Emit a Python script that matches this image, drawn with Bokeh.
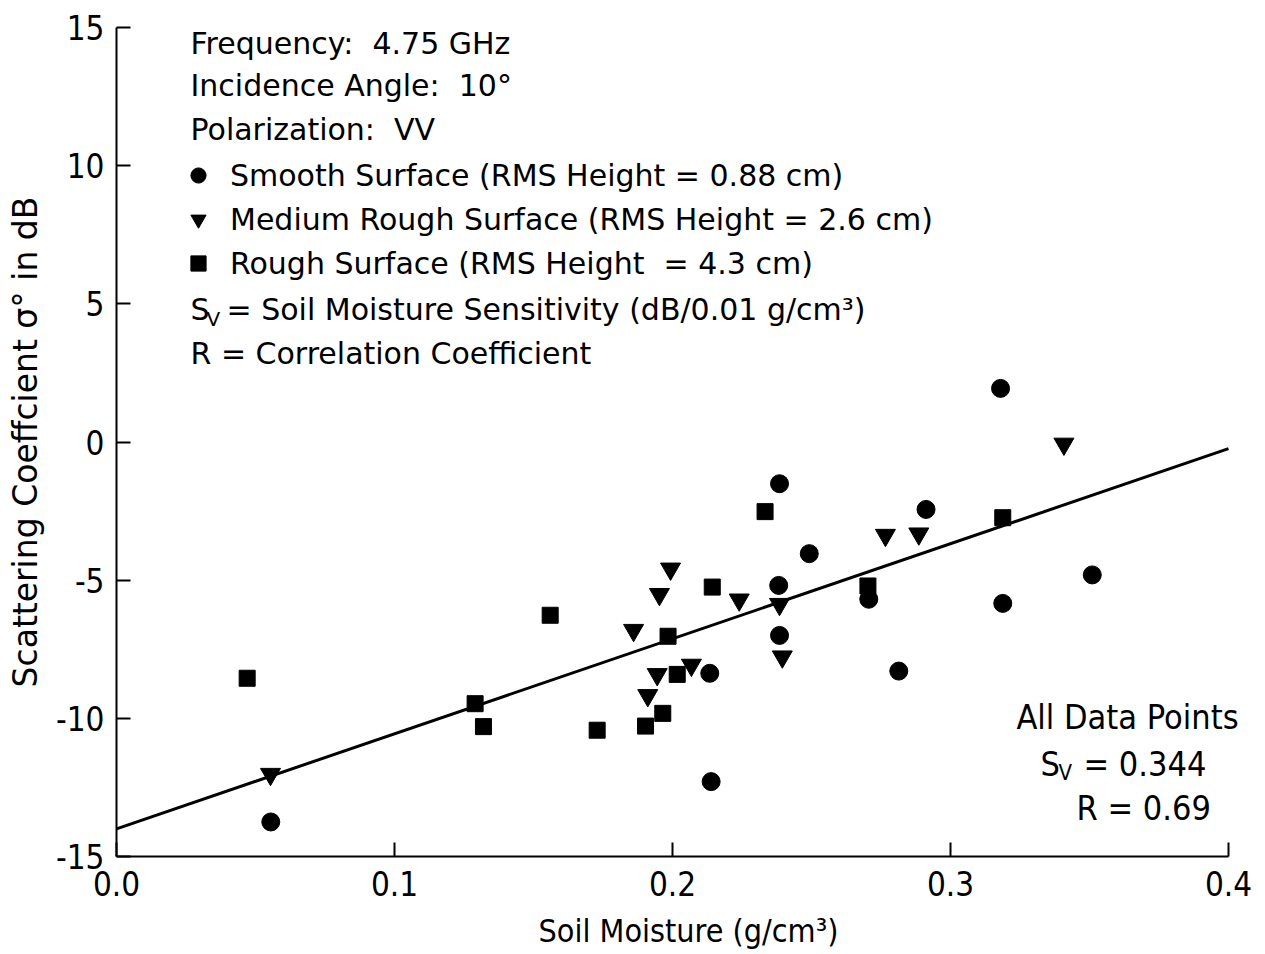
import numpy as np
from bokeh.plotting import figure
from bokeh.models import Label, Legend, LegendItem, FixedTicker
from bokeh.embed import file_html
from bokeh.resources import INLINE

# ---- data ----
smooth_x = [0.0555, 0.2134, 0.2139, 0.2385, 0.2382, 0.2385, 0.2492, 0.2706, 0.2814, 0.2912, 0.3180, 0.3188, 0.3510]
smooth_y = [-13.75, -8.37, -12.29, -1.51, -5.19, -7.00, -4.04, -5.69, -8.29, -2.44, 1.94, -5.84, -4.81]

medium_x = [0.0554, 0.1860, 0.1911, 0.1945, 0.1953, 0.1993, 0.2068, 0.2240, 0.2385, 0.2395, 0.2766, 0.2886, 0.3408]
medium_y = [-12.02, -6.81, -9.17, -8.41, -5.51, -4.59, -8.07, -5.71, -5.87, -7.77, -3.37, -3.32, -0.07]

rough_x = [0.0470, 0.1290, 0.1320, 0.1560, 0.1729, 0.1903, 0.1965, 0.1984, 0.2017, 0.2143, 0.2333, 0.2703, 0.3188]
rough_y = [-8.55, -9.47, -10.30, -6.27, -10.43, -10.28, -9.82, -7.03, -8.41, -5.25, -2.52, -5.21, -2.74]

fit_intercept = -14.0       # dB
fit_sv = 0.344              # dB per 0.01 g/cm3
fit_r = 0.69
fit_x = [0.0, 0.4]

x_ticks = [0.0, 0.1, 0.2, 0.3, 0.4]
x_tick_labels = ["0.0", "0.1", "0.2", "0.3", "0.4"]
y_ticks = [-15, -10, -5, 0, 5, 10, 15]
y_tick_labels = ["-15", "-10", "-5", "0", "5", "10", "15"]

NB = "\u00a0"
header_lines = ["Frequency:" + NB * 2 + "4.75 GHz",
                "Incidence Angle:" + NB * 2 + "10°",
                "Polarization:" + NB * 2 + "VV"]
legend_labels = ["Smooth Surface (RMS Height = 0.88 cm)",
                 "Medium Rough Surface (RMS Height = 2.6 cm)",
                 "Rough Surface (RMS Height" + NB + " = 4.3 cm)"]

TXT = "DejaVu Sans"
NAR = "'DejaVu Sans Condensed', Lato, sans-serif"

# layout: frame spans page x 116..1260 (x = 0.4 falls at 1228), y 27..856
X_END = 0.4 * (1260 - 116) / (1228 - 116)

p = figure(width=1265, height=952, output_backend="svg", toolbar_location=None,
           x_range=(0.0, X_END), y_range=(-15, 15),
           min_border_left=116, min_border_right=5, min_border_top=27, min_border_bottom=96)
p.outline_line_color = None
p.grid.grid_line_color = None
p.background_fill_color = "white"
p.border_fill_color = "white"

for ax in (p.xaxis[0], p.yaxis[0]):
    ax.axis_line_width = 2
    ax.axis_line_color = "black"
    ax.major_tick_line_width = 2
    ax.major_tick_line_color = "black"
    ax.major_tick_in = 14
    ax.major_tick_out = 0
    ax.minor_tick_line_color = None
    ax.major_label_text_font = NAR
    ax.major_label_text_font_size = "33px"
    ax.major_label_text_color = "black"
    ax.axis_label_text_font_style = "normal"
    ax.axis_label_text_color = "black"

p.xaxis.bounds = (0.0, 0.4)
p.xaxis.ticker = FixedTicker(ticks=x_ticks)
p.xaxis.major_label_overrides = {t: l for t, l in zip(x_ticks, x_tick_labels)}
p.yaxis.ticker = FixedTicker(ticks=y_ticks)
p.yaxis.major_label_overrides = {t: l for t, l in zip(y_ticks, y_tick_labels)}
p.xaxis.major_label_standoff = 14
p.yaxis.major_label_standoff = 12

p.xaxis.axis_label = "Soil Moisture (g/cm³)"
p.xaxis.axis_label_text_font = NAR
p.xaxis.axis_label_text_font_size = "32px"
p.xaxis.axis_label_standoff = 13
p.yaxis.axis_label = "Scattering Coeffcient σ° in dB"
p.yaxis.axis_label_text_font = TXT
p.yaxis.axis_label_text_font_size = "33px"
p.yaxis.axis_label_standoff = 8

# regression line
fit_y = [fit_intercept + fit_sv * 100 * xv for xv in fit_x]
p.line(fit_x, fit_y, line_color="black", line_width=3)

r_s = p.scatter(smooth_x, smooth_y, marker="circle", size=18, fill_color="black", line_color="black")
r_m = p.scatter(medium_x, medium_y, marker="inverted_triangle", size=20, fill_color="black", line_color="black")
r_r = p.scatter(rough_x, rough_y, marker="square", size=16, fill_color="black", line_color="black")

# legend: rows centred at page y 175 / 220 / 265, markers at page x 198
legend = Legend(items=[LegendItem(label=legend_labels[0], renderers=[r_s]),
                       LegendItem(label=legend_labels[1], renderers=[r_m]),
                       LegendItem(label=legend_labels[2], renderers=[r_r])],
                location=(63, 574), orientation="vertical",
                glyph_width=38, glyph_height=38, label_height=38, spacing=6,
                padding=0, margin=0, label_standoff=13,
                label_text_font=TXT, label_text_font_size="30px", label_text_color="black",
                border_line_alpha=0, background_fill_alpha=0)
p.add_layout(legend, "center")

# annotation text (screen units, relative to the frame: left=116, bottom=856 on the page)
FL, FB = 116, 856
def lab(txt, px, py, size="30px", font=TXT, align="left"):
    p.add_layout(Label(x=px - FL, y=FB - py, x_units="screen", y_units="screen", text=txt,
                       text_font=font, text_font_size=size, text_color="black",
                       text_baseline="middle", text_align=align))

ys = [43, 85, 129]
for t, yy in zip(header_lines, ys):
    lab(t, 190, yy)

lab("S", 190, 309)
lab("V", 206, 318, size="20px")
lab("= Soil Moisture Sensitivity (dB/0.01 g/cm³)", 226, 309)
lab("R = Correlation Coefficient", 190, 353)

lab("All Data Points", 1127, 716, size="34px", font=NAR, align="center")
lab("S", 1040, 763, size="34px", font=NAR)
lab("V", 1058, 772, size="22px", font=NAR)
lab(f"= {fit_sv:.3f}", 1083, 763, size="34px", font=NAR)
lab(f"R = {fit_r:.2f}", 1076, 807, size="34px", font=NAR)

open("out.html", "w").write(file_html(p, INLINE))
